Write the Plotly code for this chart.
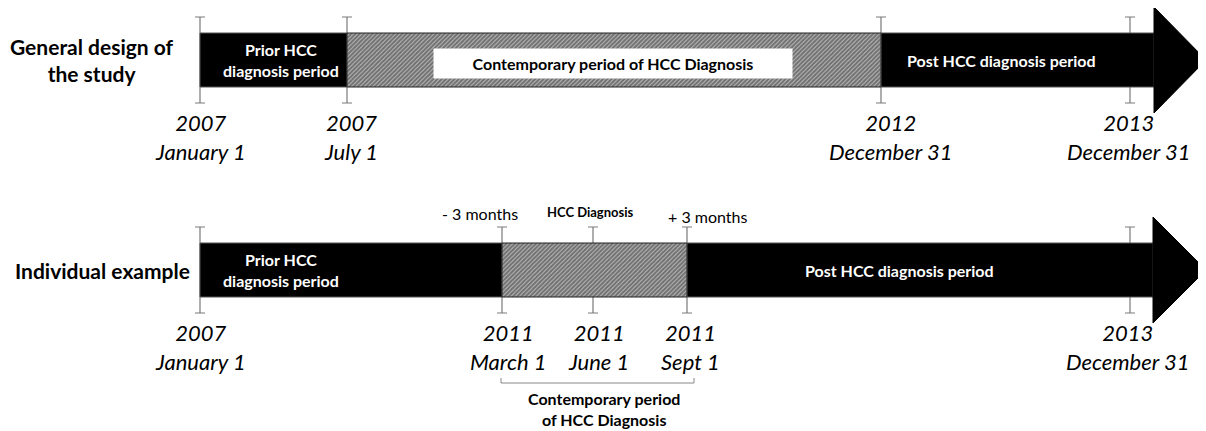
import plotly.graph_objects as go

# rows of the diagram (layout units = pixels of the 1206 x 431 canvas)
row_names = ["<b>General design of<br>the study</b>", "<b>Individual example</b>"]
row_name_x = [92, 102]
row_y = [60, 270]

# periods on each row: start, end, style, label
top_start = [200, 347, 881]
top_end = [347, 881, 1154]
top_style = ["solid", "hatch", "solid"]
top_text = ["Prior HCC<br>diagnosis period", "Contemporary period of HCC Diagnosis", "Post HCC diagnosis period"]
top_text_x = [281, 613, 1001]

bot_start = [200, 502, 687]
bot_end = [502, 687, 1153]
bot_style = ["solid", "hatch", "solid"]
bot_text = ["Prior HCC<br>diagnosis period", "", "Post HCC diagnosis period"]
bot_text_x = [281, 0, 899]

# milestones
top_ticks = [200, 347, 881, 1130]
top_dates = ["2007<br>January 1", "2007<br>July 1", "2012<br>December 31", "2013<br>December 31"]
top_date_x = [200, 351, 891, 1129]

bot_ticks = [200, 502, 593, 687, 1130]
bot_dates = ["2007<br>January 1", "2011<br>March 1", "2011<br>June 1", "2011<br>Sept 1", "2013<br>December 31"]
bot_date_x = [200, 508, 598, 690, 1128]

above_text = ["- 3 months", "<b>HCC Diagnosis</b>", "+ 3 months"]
above_x = [480, 590, 707]
above_y = [213, 212, 216]

arrow_tip = 1206

FONT = "Lato"
bar_half = 27
head_half = 53
tick_half = 43
PAGE = 8  # html body margin

fig = go.Figure()

# tick marks (I-beams) drawn first so bars hide the middle part
for ticks, cy in [(top_ticks, row_y[0]), (bot_ticks, row_y[1])]:
    fig.add_trace(go.Scatter(
        x=ticks, y=[cy] * len(ticks), mode="markers",
        marker=dict(size=1, opacity=0),
        error_y=dict(type="data", array=[tick_half] * len(ticks), color="#7a7a7a", thickness=1.2, width=5),
        hoverinfo="skip"))

# period bars + arrow head
for starts, ends, styles, cy in [(top_start, top_end, top_style, row_y[0]),
                                 (bot_start, bot_end, bot_style, row_y[1])]:
    for s, e, st in zip(starts, ends, styles):
        xs = [s, e, e, s, s]
        ys = [cy - bar_half, cy - bar_half, cy + bar_half, cy + bar_half, cy - bar_half]
        if st == "hatch":
            fig.add_trace(go.Scatter(
                x=xs, y=ys, mode="lines", fill="toself", fillcolor="#dcdcdc",
                fillpattern=dict(shape="/", fgcolor="black", bgcolor="#e4e4e4", size=3, solidity=0.8),
                line=dict(color="#222222", width=1), hoverinfo="skip"))
        else:
            fig.add_trace(go.Scatter(
                x=xs, y=ys, mode="lines", fill="toself", fillcolor="black",
                line=dict(color="#555555", width=1), hoverinfo="skip"))
    hx = ends[-1]
    fig.add_trace(go.Scatter(
        x=[hx, arrow_tip, hx, hx], y=[cy - head_half, cy, cy + head_half, cy - head_half],
        mode="lines", fill="toself", fillcolor="black", line=dict(color="black", width=1),
        hoverinfo="skip"))

ann = []
# row names
for t, x, y in zip(row_names, row_name_x, row_y):
    ann.append(dict(x=x, y=y, text=t, showarrow=False, font=dict(family=FONT, size=21, color="black")))

# texts inside bars
for texts, xs, cy in [(top_text, top_text_x, row_y[0]), (bot_text, bot_text_x, row_y[1])]:
    for t, x in zip(texts, xs):
        if not t:
            continue
        if t.startswith("Contemporary"):
            ann.append(dict(x=x, y=cy + 3, text="<b>" + t + "</b>", showarrow=False, bgcolor="white",
                            width=356, height=27, font=dict(family=FONT, size=16, color="black")))
        else:
            ann.append(dict(x=x, y=cy, text="<b>" + t + "</b>", showarrow=False,
                            font=dict(family=FONT, size=16, color="white")))

# dates below ticks
for dates, xs, y0 in [(top_dates, top_date_x, 137), (bot_dates, bot_date_x, 347)]:
    for t, x in zip(dates, xs):
        ann.append(dict(x=x, y=y0, text="<i>" + t + "</i>", showarrow=False,
                        font=dict(family=FONT, size=22, color="black")))

# labels above ticks on the individual example
for t, x, y in zip(above_text, above_x, above_y):
    size = 13 if "HCC" in t else 16
    ann.append(dict(x=x, y=y, text=t, showarrow=False, font=dict(family=FONT, size=size, color="black")))

# bracket under the contemporary window
b0, b1 = bot_ticks[1] - 1, bot_ticks[3] + 7
fig.add_trace(go.Scatter(x=[b0, b0, b1, b1], y=[378, 383, 383, 378], mode="lines",
                         line=dict(color="#888888", width=1), hoverinfo="skip"))
ann.append(dict(x=(b0 + b1) / 2 + 6, y=409, text="<b>Contemporary period<br>of HCC Diagnosis</b>",
                showarrow=False, font=dict(family=FONT, size=16, color="black")))

fig.update_layout(
    width=1206 - PAGE, height=431 - PAGE, margin=dict(l=0, r=0, t=0, b=0),
    paper_bgcolor="white", plot_bgcolor="white", showlegend=False,
    annotations=ann,
    xaxis=dict(range=[PAGE, 1206], visible=False, fixedrange=True),
    yaxis=dict(range=[431, PAGE], visible=False, fixedrange=True),
)
fig.write_html("out.html")
